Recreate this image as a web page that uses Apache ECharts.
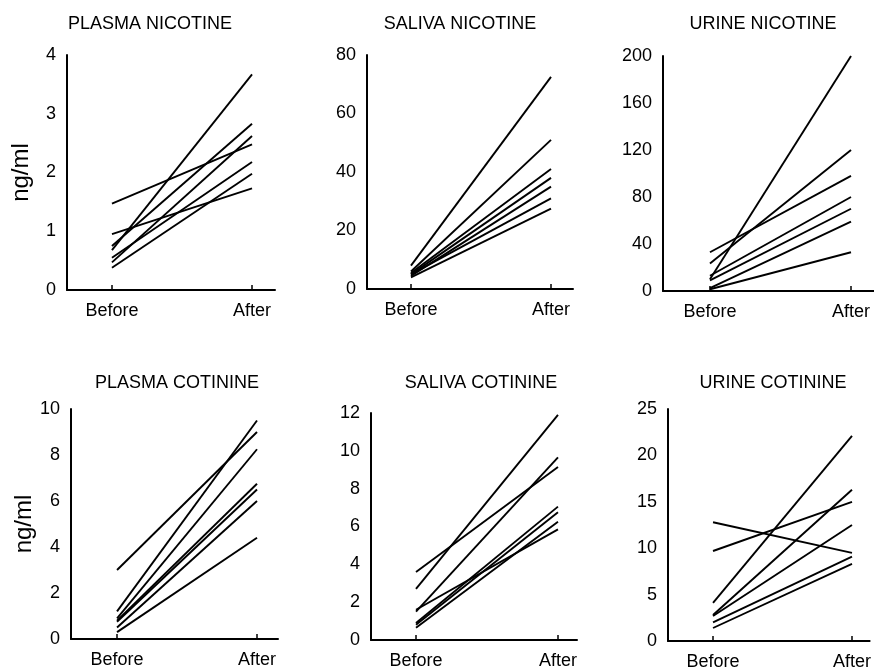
<!DOCTYPE html>
<html>
<head>
<meta charset="utf-8">
<script src="https://cdn.jsdelivr.net/npm/echarts@6/dist/echarts.min.js"></script>
<style>
html,body{margin:0;padding:0;background:#fff;}
#c{width:874px;height:671px;}
</style>
</head>
<body>
<div id="c"></div>
<script>
// ---- data ----
var categories = ['Before', 'After'];
var panelTitles = ['PLASMA NICOTINE', 'SALIVA NICOTINE', 'URINE NICOTINE',
                   'PLASMA COTININE', 'SALIVA COTININE', 'URINE COTININE'];
var unitLabel = 'ng/ml';

var plasmaNicotineBefore = [1.47, 0.95, 0.68, 0.75, 0.47, 0.55, 0.38];
var plasmaNicotineAfter  = [2.48, 1.73, 3.67, 2.83, 2.62, 2.18, 1.98];

var salivaNicotineBefore = [8, 6, 5.5, 5, 4.5, 5, 4];
var salivaNicotineAfter  = [72.5, 51, 41, 38, 35, 31, 27.5];

var urineNicotineBefore = [33, 23.5, 10, 13, 9, 2.5, 1.5];
var urineNicotineAfter  = [98, 120, 200, 80, 70, 59, 33];

var plasmaCotinineBefore = [3.0, 1.2, 0.9, 0.8, 0.75, 0.5, 0.3];
var plasmaCotinineAfter  = [9.0, 9.5, 8.25, 6.75, 6.5, 6.0, 4.4];

var salivaCotinineBefore = [3.6, 2.7, 1.5, 1.6, 0.9, 0.8, 0.65];
var salivaCotinineAfter  = [9.15, 11.9, 9.65, 5.85, 7.05, 6.75, 6.25];

var urineCotinineBefore = [12.8, 9.7, 4.1, 2.8, 2.7, 2.0, 1.4];
var urineCotinineAfter  = [9.5, 15.0, 22.1, 16.3, 12.5, 9.1, 8.3];

// y-axis scales (max, interval) per panel
var yMax      = [4, 80, 200, 10, 12, 25];
var yInterval = [1, 20, 40, 2, 2, 5];

var befores = [plasmaNicotineBefore, salivaNicotineBefore, urineNicotineBefore,
               plasmaCotinineBefore, salivaCotinineBefore, urineCotinineBefore];
var afters  = [plasmaNicotineAfter, salivaNicotineAfter, urineNicotineAfter,
               plasmaCotinineAfter, salivaCotinineAfter, urineCotinineAfter];

// ---- layout ----
var layout = [
  {left: 67,  width: 208, top: 55,  height: 235, xmin: -0.321, xmax: 1.164, tx: 145, ty: 10},
  {left: 367, width: 206, top: 55,  height: 234, xmin: -0.314, xmax: 1.157, tx: 455, ty: 10},
  {left: 663, width: 211, top: 56,  height: 235, xmin: -0.333, xmax: 1.163, tx: 758, ty: 10},
  {left: 71,  width: 207, top: 409, height: 230, xmin: -0.329, xmax: 1.150, tx: 172, ty: 369},
  {left: 371, width: 206, top: 413, height: 227, xmin: -0.317, xmax: 1.134, tx: 476, ty: 369},
  {left: 668, width: 206, top: 409, height: 232, xmin: -0.324, xmax: 1.127, tx: 768, ty: 369}
];

var FONT = '"Liberation Sans", Arial, Helvetica, sans-serif';
var grids = [], xAxes = [], yAxes = [], titles = [], series = [];

for (var p = 0; p < 6; p++) {
  var L = layout[p];
  grids.push({left: L.left, width: L.width, top: L.top, height: L.height, containLabel: false});
  titles.push({
    text: panelTitles[p], left: L.tx, top: L.ty, textAlign: 'center',
    textStyle: {fontFamily: FONT, fontSize: 18, fontWeight: 'normal', color: '#000'}
  });
  xAxes.push({
    type: 'value', gridIndex: p, min: L.xmin, max: L.xmax,
    splitLine: {show: false},
    axisLine: {show: true, onZero: false, lineStyle: {color: '#000', width: 2}},
    axisTick: {show: true, inside: true, length: 5, customValues: [0, 1],
               lineStyle: {color: '#000', width: 1.5}},
    axisLabel: {show: true, customValues: [0, 1], margin: 12,
                formatter: function (v) { return categories[Math.round(v)]; },
                fontFamily: FONT, fontSize: 18, color: '#000'}
  });
  var yax = {
    type: 'value', gridIndex: p, min: 0, max: yMax[p], interval: yInterval[p],
    splitLine: {show: false},
    axisLine: {show: true, onZero: false, lineStyle: {color: '#000', width: 2}},
    axisTick: {show: false},
    axisLabel: {margin: 11, fontFamily: FONT, fontSize: 18, color: '#000'}
  };
  if (p === 0 || p === 3) {
    yax.name = unitLabel;
    yax.nameLocation = 'middle';
    yax.nameRotate = 90;
    yax.nameGap = 34;
    yax.nameTextStyle = {fontFamily: FONT, fontSize: 24, color: '#000'};
  }
  yAxes.push(yax);

  var b = befores[p], a = afters[p];
  for (var i = 0; i < b.length; i++) {
    series.push({
      type: 'line', xAxisIndex: p, yAxisIndex: p,
      data: [[0, b[i]], [1, a[i]]],
      symbol: 'none', silent: true, animation: false,
      lineStyle: {color: '#000', width: 1.9}
    });
  }
}

var chart = echarts.init(document.getElementById('c'), null, {renderer: 'canvas'});
chart.setOption({
  backgroundColor: '#fff',
  animation: false,
  title: titles,
  grid: grids,
  xAxis: xAxes,
  yAxis: yAxes,
  series: series
});
</script>
</body>
</html>
